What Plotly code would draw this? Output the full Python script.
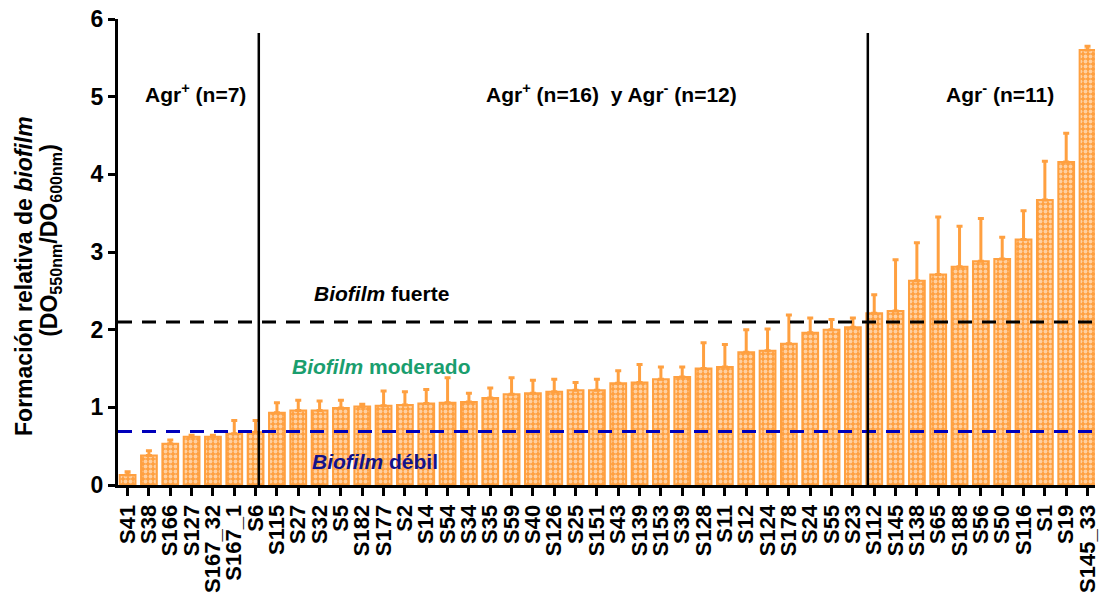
import plotly.graph_objects as go

strains = ["S41", "S38", "S166", "S127", "S167_32", "S167_1", "S6", "S115", "S27", "S32",
           "S5", "S182", "S177", "S2", "S14", "S54", "S34", "S35", "S59", "S40",
           "S126", "S25", "S151", "S43", "S139", "S153", "S39", "S128", "S11", "S12",
           "S124", "S178", "S24", "S55", "S23", "S112", "S145", "S138", "S65", "S188",
           "S56", "S50", "S116", "S1", "S19", "S145_33"]

biofilm = [0.13, 0.38, 0.53, 0.62, 0.62, 0.66, 0.68, 0.93, 0.96, 0.96,
           0.99, 1.01, 1.02, 1.03, 1.05, 1.06, 1.07, 1.12, 1.17, 1.18,
           1.20, 1.22, 1.22, 1.31, 1.32, 1.36, 1.39, 1.50, 1.52, 1.71,
           1.73, 1.82, 1.96, 2.00, 2.03, 2.21, 2.24, 2.63, 2.71, 2.81,
           2.88, 2.91, 3.16, 3.67, 4.16, 5.60]

sd = [0.04, 0.06, 0.05, 0.02, 0.02, 0.17, 0.15, 0.13, 0.13, 0.12,
      0.10, 0.03, 0.19, 0.17, 0.18, 0.32, 0.11, 0.13, 0.21, 0.17,
      0.16, 0.10, 0.14, 0.16, 0.23, 0.16, 0.13, 0.33, 0.29, 0.29,
      0.28, 0.37, 0.19, 0.13, 0.12, 0.24, 0.66, 0.49, 0.74, 0.52,
      0.55, 0.28, 0.37, 0.50, 0.37, 0.05]

strong_threshold = 2.1
weak_threshold = 0.69
group_dividers = [6.15, 34.7]
divider_top = 5.82
y_ticks = [0, 1, 2, 3, 4, 5, 6]

ORANGE = "#FFA040"
FONT = "Arial, 'Liberation Sans', sans-serif"

fig = go.Figure()
fig.add_trace(go.Bar(
    x=strains, y=biofilm,
    width=0.74,
    marker=dict(color=ORANGE, line=dict(color=ORANGE, width=2),
                pattern=dict(shape=".", fgcolor="white", bgcolor=ORANGE, size=5, solidity=0.45)),
    error_y=dict(type="data", symmetric=False, array=sd, arrayminus=[0] * len(sd),
                 color=ORANGE, thickness=3, width=3),
))

# thresholds
fig.add_shape(type="line", xref="paper", x0=0, x1=1, yref="y", y0=strong_threshold, y1=strong_threshold,
              line=dict(color="black", width=3, dash="14px,10px"), layer="above")
fig.add_shape(type="line", xref="paper", x0=0, x1=1, yref="y", y0=weak_threshold, y1=weak_threshold,
              line=dict(color="#0000BB", width=3, dash="14px,10px"), layer="above")
for d in group_dividers:
    fig.add_shape(type="line", xref="x", x0=d, x1=d, yref="y", y0=0, y1=divider_top,
                  line=dict(color="black", width=2.5), layer="above")

ann_font = dict(family=FONT, size=21, color="black", weight="bold")
groups = [(3.2, "Agr<sup>+</sup> (n=7)"),
          (22.7, "Agr<sup>+</sup> (n=16)  y Agr<sup>-</sup> (n=12)"),
          (40.9, "Agr<sup>-</sup> (n=11)")]
for gx, gt in groups:
    fig.add_annotation(x=gx, y=5.05, xref="x", yref="y", text=gt, showarrow=False, font=ann_font,
                       xanchor="center", yanchor="middle")

fig.add_annotation(x=11.9, y=2.46, xref="x", yref="y", text="<i>Biofilm</i> fuerte",
                   showarrow=False, xanchor="center", yanchor="middle",
                   font=dict(family=FONT, size=21, color="black", weight="bold"))
fig.add_annotation(x=11.9, y=1.52, xref="x", yref="y", text="<i>Biofilm</i> moderado",
                   showarrow=False, xanchor="center", yanchor="middle",
                   font=dict(family=FONT, size=21, color="#1A9E6E", weight="bold"))
fig.add_annotation(x=11.6, y=0.30, xref="x", yref="y", text="<i>Biofilm</i> débil",
                   showarrow=False, xanchor="center", yanchor="middle",
                   font=dict(family=FONT, size=21, color="#12128A", weight="bold"))

# y title (two lines)
fig.add_annotation(x=(24 - 118) / 982, y=(485 - 275) / 467, xref="paper", yref="paper",
                   text="Formación relativa de <i>biofilm</i>", textangle=-90,
                   xanchor="center", yanchor="middle",
                   showarrow=False, font=dict(family=FONT, size=23, color="black", weight="bold"))
fig.add_annotation(x=(50 - 118) / 982, y=(485 - 240) / 467, xref="paper", yref="paper",
                   text="(DO<sub>550nm</sub>/DO<sub>600nm</sub>)", textangle=-90,
                   xanchor="center", yanchor="middle",
                   showarrow=False, font=dict(family=FONT, size=23, color="black", weight="bold"))

fig.update_layout(
    width=1106, height=599,
    margin=dict(l=118, r=6, t=18, b=114),
    plot_bgcolor="white", paper_bgcolor="white",
    showlegend=False,
    font=dict(family=FONT, color="black"),
)
fig.update_xaxes(range=[-0.45, 45.35], tickmode="array", tickvals=strains, ticktext=strains,
                 showgrid=False, zeroline=False,
                 showline=True, linecolor="black", linewidth=3,
                 ticks="outside", ticklen=8, tickwidth=3, tickcolor="black",
                 tickangle=-90, tickfont=dict(family=FONT, size=22, color="black", weight="bold"))
fig.update_yaxes(range=[0, 6], tickvals=y_ticks, showgrid=False, zeroline=False,
                 showline=True, linecolor="black", linewidth=3,
                 ticks="outside", ticklen=7, tickwidth=3, tickcolor="black",
                 tickfont=dict(family=FONT, size=23, color="black", weight="bold"))

fig.write_html("out.html")
